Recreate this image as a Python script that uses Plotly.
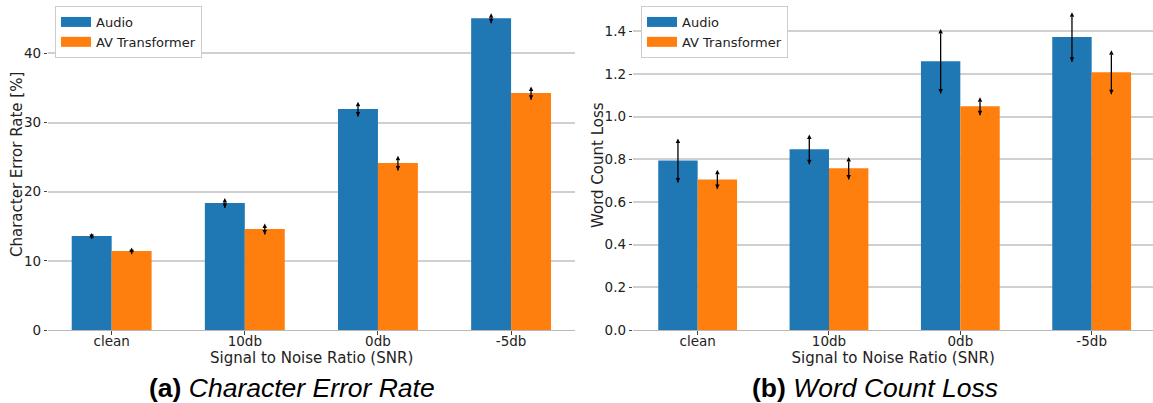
import plotly.graph_objects as go

# SNR conditions on the x axis
snr_levels = ["clean", "10db", "0db", "-5db"]

# Character error rate [%] (mean and spread)
cer_audio = [13.6, 18.37, 31.95, 45.1]
cer_audio_err = [0.43, 0.72, 1.06, 0.72]
cer_av = [11.44, 14.6, 24.14, 34.27]
cer_av_err = [0.5, 0.8, 1.08, 0.96]

# Word count loss (mean and spread)
wcl_audio = [0.795, 0.847, 1.26, 1.373]
wcl_audio_err = [0.103, 0.07, 0.151, 0.116]
wcl_av = [0.706, 0.758, 1.049, 1.208]
wcl_av_err = [0.045, 0.053, 0.042, 0.103]

series_names = ["Audio", "AV Transformer"]
series_colors = ["#1f77b4", "#ff7f0e"]

BAR_W = 0.3
W, H = 1153, 403
PLOT_BOTTOM = 330.3  # pixel row of the plot-area bottom

fig = go.Figure()


def add_panel(xa, ya, means_list, errs_list):
    for k, (means, errs) in enumerate(zip(means_list, errs_list)):
        off = (k - 0.5) * BAR_W
        xs = [i + off for i in range(len(snr_levels))]
        fig.add_bar(
            x=xs, y=means, width=BAR_W, name=series_names[k],
            marker=dict(color=series_colors[k], line=dict(width=0)),
            xaxis=xa, yaxis=ya, showlegend=False,
        )
        ex, ey, sym = [], [], []
        for x, m, e in zip(xs, means, errs):
            ex += [x, x, None]
            ey += [m - e, m + e, None]
            sym += ["arrow-down", "arrow-up", "circle"]
        fig.add_scatter(
            x=ex, y=ey, mode="lines+markers",
            line=dict(color="black", width=1.3),
            marker=dict(symbol=sym, size=4.5, color="black"),
            xaxis=xa, yaxis=ya, showlegend=False, hoverinfo="skip",
        )


add_panel("x", "y", [cer_audio, cer_av], [cer_audio_err, cer_av_err])
add_panel("x2", "y2", [wcl_audio, wcl_av], [wcl_audio_err, wcl_av_err])

# legend entries drawn as wide colour patches
for leg, xa, ya in [("legend", "x", "y"), ("legend2", "x2", "y2")]:
    for name, color in zip(series_names, series_colors):
        fig.add_scatter(
            x=[None], y=[None], mode="lines", name=name,
            line=dict(color=color, width=10),
            legend=leg, showlegend=True, xaxis=xa, yaxis=ya,
        )

axis_common = dict(
    ticks="outside", ticklen=3.5, tickwidth=1, tickcolor="#444",
    zeroline=False, tickfont=dict(size=13.5),
)
x_common = dict(
    axis_common, tickvals=list(range(len(snr_levels))), ticktext=snr_levels,
    showgrid=False, showline=True, linecolor="#b8b8b8", linewidth=1,
    ticklabelstandoff=-5,
    title=dict(text="Signal to Noise Ratio (SNR)", font=dict(size=15), standoff=3),
)
y_common = dict(
    axis_common, showgrid=True, gridcolor="#d0d0d0", gridwidth=1.6,
    showline=False, domain=[0, 1],
)

plot_h = PLOT_BOTTOM
legend_common = dict(
    y=1 - 6 / plot_h, xanchor="left", yanchor="top",
    bgcolor="white", bordercolor="#cccccc", borderwidth=1,
    font=dict(size=13),
)


def y_title(text, x_px):
    return dict(
        text=text, x=x_px / W, y=0.5, xref="paper", yref="paper",
        xanchor="center", yanchor="middle", textangle=-90, showarrow=False,
        font=dict(family="DejaVu Sans", size=15, color="#222"),
    )


def caption(text, x_px):
    return dict(
        text=text, x=x_px / W, y=1 - 388 / plot_h, xref="paper", yref="paper",
        xanchor="center", yanchor="middle", showarrow=False,
        font=dict(family="Liberation Sans", size=26.5, color="black"),
    )


fig.update_layout(
    width=W, height=H,
    margin=dict(l=0, r=0, t=0, b=H - PLOT_BOTTOM),
    plot_bgcolor="white", paper_bgcolor="white",
    barmode="overlay",
    font=dict(family="DejaVu Sans", size=13, color="#222"),
    xaxis=dict(x_common, domain=[48.3 / W, 575 / W], range=[-0.476, 3.48], anchor="y"),
    xaxis2=dict(x_common, domain=[633.3 / W, 1.0], range=[-0.49, 3.467], anchor="y2"),
    yaxis=dict(y_common, range=[0, 47.73], dtick=10, anchor="x"),
    yaxis2=dict(y_common, range=[0, 1.547], dtick=0.2, tickformat=".1f", anchor="x2"),
    legend=dict(legend_common, x=55 / W),
    legend2=dict(legend_common, x=641 / W),
    annotations=[
        y_title("Character Error Rate [%]", 17),
        y_title("Word Count Loss", 598),
        caption("<b>(a)</b> <i>Character Error Rate</i>", 292),
        caption("<b>(b)</b> <i>Word Count Loss</i>", 875),
    ],
)

fig.write_html("out.html")
